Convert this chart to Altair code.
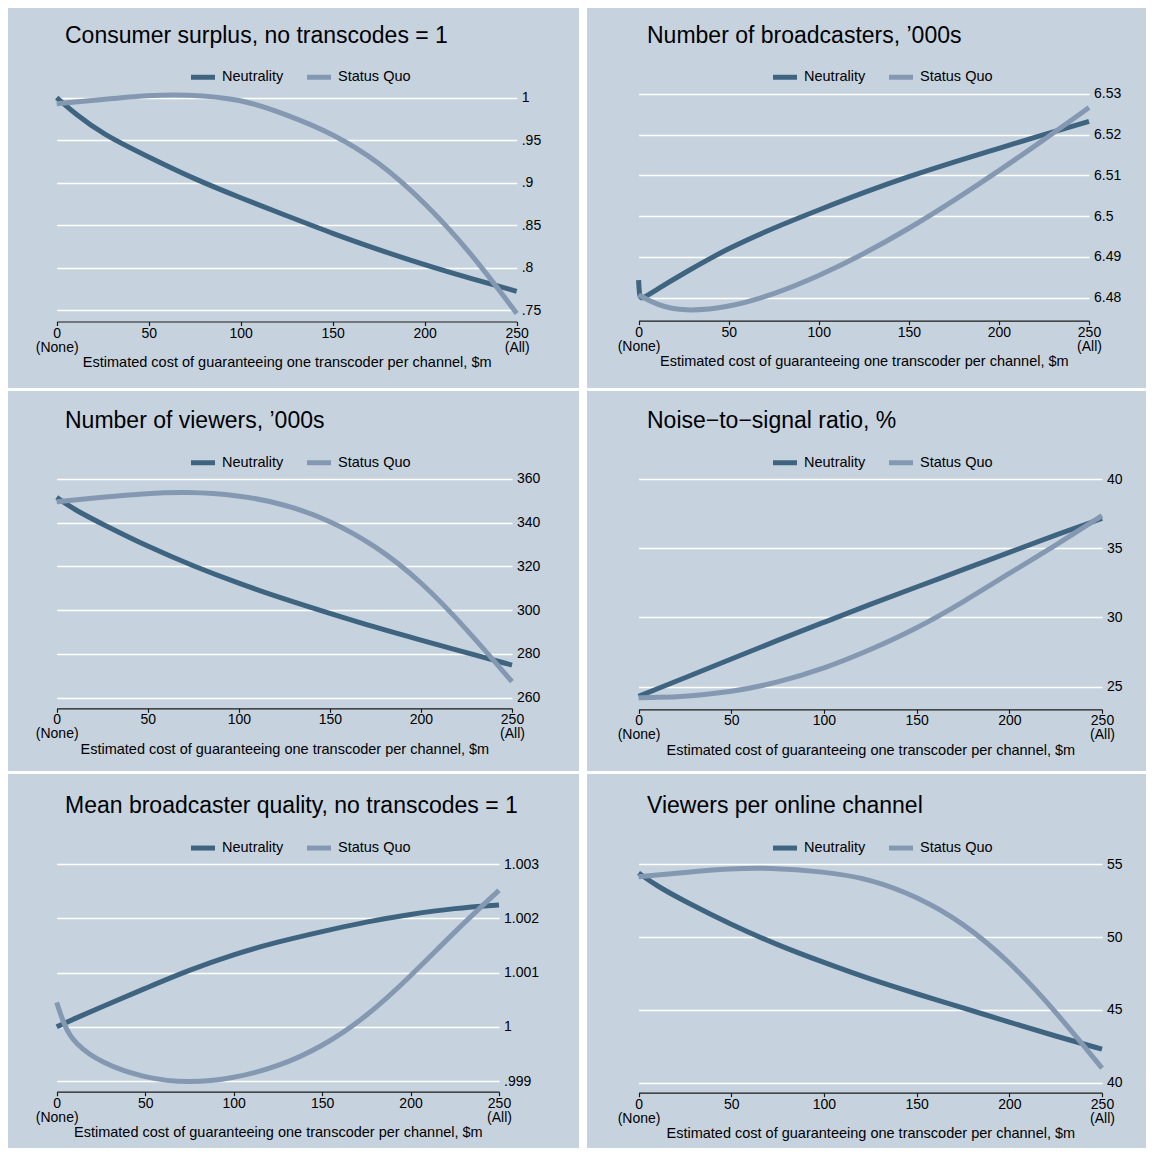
import altair as alt
import pandas as pd

# ---------------- shared text / categories ----------------
SERIES = ["Neutrality", "Status Quo"]
LINE_COLORS = ["#3E6480", "#8499B1"]
BG = "#C6D3DF"
FONT = "Liberation Sans"

X_TICKS = [0, 50, 100, 150, 200, 250]
X_END_NOTES = ["(None)", "(All)"]
X_TITLE = "Estimated cost of guaranteeing one transcoder per channel, $m"
X_GRID = [0, 10, 25, 50, 75, 100, 125, 150, 175, 200, 225, 250]

# ---------------- panel 1 ----------------
T1 = "Consumer surplus, no transcodes = 1"
P1_Y_TICKS = [0.75, 0.8, 0.85, 0.9, 0.95, 1.0]
P1_N_X = X_GRID
P1_N_Y = [1.000, 0.981, 0.957, 0.930, 0.904, 0.882, 0.861, 0.840, 0.821, 0.803, 0.787, 0.772]
P1_S_X = [0, 25, 50, 70, 100, 125, 150, 175, 200, 225, 250]
P1_S_Y = [0.993, 0.998, 1.003, 1.004, 0.999, 0.980, 0.958, 0.925, 0.877, 0.818, 0.746]

# ---------------- panel 2 ----------------
T2 = "Number of broadcasters, \u2019000s"
P2_Y_TICKS = [6.48, 6.49, 6.5, 6.51, 6.52, 6.53]
P2_N_X = [0, 0.5, 2, 10, 25, 50, 75, 100, 125, 150, 175, 200, 225, 250]
P2_N_Y = [6.4843, 6.4800, 6.4797, 6.4820, 6.4860, 6.4922, 6.4971, 6.5015, 6.5058, 6.5097, 6.5133, 6.5166, 6.5200, 6.5232]
P2_S_X = X_GRID
P2_S_Y = [6.4807, 6.4782, 6.4766, 6.4776, 6.4808, 6.4853, 6.4907, 6.4969, 6.5038, 6.5111, 6.5187, 6.5266]

# ---------------- panel 3 ----------------
T3 = "Number of viewers, \u2019000s"
P3_Y_TICKS = [260, 280, 300, 320, 340, 360]
P3_N_X = X_GRID
P3_N_Y = [351.5, 345.7, 339.3, 329.0, 320.1, 312.2, 305.0, 298.5, 292.1, 286.3, 280.6, 274.9]
P3_S_X = [0, 25, 50, 70, 100, 125, 150, 175, 200, 225, 250]
P3_S_Y = [349.5, 351.6, 353.3, 354.0, 352.6, 348.4, 341.1, 329.5, 313.3, 291.5, 267.3]

# ---------------- panel 4 ----------------
T4 = "Noise\u2212to\u2212signal ratio, %"
P4_Y_TICKS = [25, 30, 35, 40]
P4_N_X = X_GRID
P4_N_Y = [24.3, 24.84, 25.65, 27.0, 28.35, 29.65, 30.95, 32.2, 33.45, 34.7, 35.95, 37.15]
P4_S_X = X_GRID
P4_S_Y = [24.2, 24.22, 24.3, 24.6, 25.3, 26.3, 27.65, 29.2, 31.1, 33.2, 35.2, 37.35]

# ---------------- panel 5 ----------------
T5 = "Mean broadcaster quality, no transcodes = 1"
P5_Y_TICKS = [0.999, 1.0, 1.001, 1.002, 1.003]
P5_N_X = X_GRID
P5_N_Y = [1.0000, 1.00015, 1.00036, 1.00071, 1.00105, 1.00134, 1.00157, 1.00176, 1.00194, 1.00208, 1.00219, 1.00225]
P5_S_X = [0, 4.5, 10, 25, 50, 75, 100, 125, 150, 175, 200, 225, 250]
P5_S_Y = [1.00045, 1.0000, 0.99970, 0.99933, 0.99905, 0.99896, 0.99905, 0.99926, 0.99963, 1.00018, 1.00093, 1.00176, 1.00252]

# ---------------- panel 6 ----------------
T6 = "Viewers per online channel"
P6_Y_TICKS = [40, 45, 50, 55]
P6_N_X = X_GRID
P6_N_Y = [54.4, 53.5, 52.45, 50.85, 49.45, 48.25, 47.1, 46.1, 45.15, 44.15, 43.2, 42.3]
P6_S_X = [0, 25, 50, 70, 100, 125, 150, 175, 200, 225, 250]
P6_S_Y = [54.15, 54.45, 54.7, 54.77, 54.5, 54.0, 52.8, 51.0, 48.35, 44.9, 41.0]

PANELS = [
    dict(title=T1, nx=P1_N_X, ny=P1_N_Y, sx=P1_S_X, sy=P1_S_Y, ticks=P1_Y_TICKS),
    dict(title=T2, nx=P2_N_X, ny=P2_N_Y, sx=P2_S_X, sy=P2_S_Y, ticks=P2_Y_TICKS),
    dict(title=T3, nx=P3_N_X, ny=P3_N_Y, sx=P3_S_X, sy=P3_S_Y, ticks=P3_Y_TICKS),
    dict(title=T4, nx=P4_N_X, ny=P4_N_Y, sx=P4_S_X, sy=P4_S_Y, ticks=P4_Y_TICKS),
    dict(title=T5, nx=P5_N_X, ny=P5_N_Y, sx=P5_S_X, sy=P5_S_Y, ticks=P5_Y_TICKS),
    dict(title=T6, nx=P6_N_X, ny=P6_N_Y, sx=P6_S_X, sy=P6_S_Y, ticks=P6_Y_TICKS),
]

# layout (pixels inside each panel)
LAYOUT = [
    dict(w=571, h=380, xr=[48.7, 508.7], yr=[302, 89.7], xoff=-66.5, tdx=57, toff=-57.5, lx=180.5, ly=54.5),
    dict(w=559, h=380, xr=[51.6, 502], yr=[289.7, 85.7], xoff=-67.3, tdx=60, toff=-57.5, lx=183.5, ly=54.5),
    dict(w=571, h=380, xr=[48.7, 504], yr=[306.7, 87.7], xoff=-62.7, tdx=57, toff=-59.8, lx=180.5, ly=57),
    dict(w=559, h=380, xr=[51.6, 515], yr=[295.7, 88], xoff=-61.7, tdx=60, toff=-59.8, lx=183.5, ly=57),
    dict(w=571, h=374, xr=[48.7, 491], yr=[307, 90.3], xoff=-56.3, tdx=57, toff=-62.1, lx=180.5, ly=59.3),
    dict(w=559, h=374, xr=[51.6, 515], yr=[308.7, 90.3], xoff=-55.3, tdx=60, toff=-62.1, lx=183.5, ly=59.3),
]

XLABEL_EXPR = (
    f"datum.value == {X_TICKS[0]} ? ['{X_TICKS[0]}', '{X_END_NOTES[0]}'] : "
    f"datum.value == {X_TICKS[-1]} ? ['{X_TICKS[-1]}', '{X_END_NOTES[1]}'] : datum.label"
)
YLABEL_EXPR = "datum.value < 1 ? substring(format(datum.value, '~g'), 1) : format(datum.value, '~g')"


def make_panel(p, L):
    rows = []
    for s, xs, ys in ((SERIES[0], p["nx"], p["ny"]), (SERIES[1], p["sx"], p["sy"])):
        for xv, yv in zip(xs, ys):
            rows.append({"series": s, "x": xv, "y": yv})
    df = pd.DataFrame(rows)
    ydom = [min(p["ticks"]), max(p["ticks"])]

    x = alt.X(
        "x:Q",
        scale=alt.Scale(domain=[X_TICKS[0], X_TICKS[-1]], range=L["xr"], nice=False, zero=False),
        axis=alt.Axis(
            values=X_TICKS, title=X_TITLE, labelExpr=XLABEL_EXPR, labelOverlap=False, labelFlush=False,
            grid=False, domainColor="#1a1a1a", domainWidth=1.2, tickColor="#1a1a1a", tickWidth=1.2,
            tickSize=4, labelPadding=0.6, labelFontSize=14, labelColor="#000000", labelLineHeight=14,
            labelBaseline="top", titleFontSize=14.5, titleFontWeight="normal", titleColor="#000000",
            titlePadding=1.2, offset=L["xoff"],
        ),
    )
    # y axis anchored at the right end of the x range (left-orient axis moved right,
    # labels drawn to its right) so grid lines span exactly the x range
    y = alt.Y(
        "y:Q",
        scale=alt.Scale(domain=ydom, range=L["yr"], nice=False, zero=False),
        axis=alt.Axis(
            orient="left", values=p["ticks"], title=None, labelExpr=YLABEL_EXPR, domain=False,
            ticks=False, tickSize=0, grid=True, gridColor="#FFFFFF", gridWidth=1.5,
            labelAlign="left", labelPadding=-4.5, labelFontSize=14, labelColor="#000000",
            labelFlush=False, labelOverlap=False, offset=-L["xr"][1],
        ),
    )
    color = alt.Color(
        "series:N",
        scale=alt.Scale(domain=SERIES, range=LINE_COLORS),
        legend=alt.Legend(
            title=None, orient="none", legendX=L["lx"], legendY=L["ly"], direction="horizontal",
            symbolType="stroke", symbolStrokeWidth=5, symbolSize=576, labelFontSize=14.5,
            labelColor="#000000", labelOffset=4.5, columnPadding=13, padding=0,
        ),
    )
    return (
        alt.Chart(df)
        .mark_line(strokeWidth=5, interpolate="basis")
        .encode(x=x, y=y, color=color)
        .properties(
            width=L["w"], height=L["h"],
            title=alt.TitleParams(
                text=p["title"], anchor="start", frame="group", orient="top", fontSize=23,
                fontWeight="normal", color="#000000", baseline="alphabetic", dx=L["tdx"], offset=L["toff"],
            ),
        )
    )


charts = [make_panel(p, L) for p, L in zip(PANELS, LAYOUT)]
rows = [
    alt.hconcat(charts[i], charts[i + 1], spacing=8)
    .resolve_scale(color="independent")
    .resolve_legend(color="independent")
    for i in (0, 2, 4)
]
chart = (
    alt.vconcat(*rows, spacing=3)
    .resolve_scale(color="independent")
    .resolve_legend(color="independent")
    .properties(background="#FFFFFF", padding=0)
    .configure(font=FONT)
    .configure_view(fill=BG, stroke=None)
)
chart.save("out.html", embed_options={"renderer": "svg", "actions": False})
